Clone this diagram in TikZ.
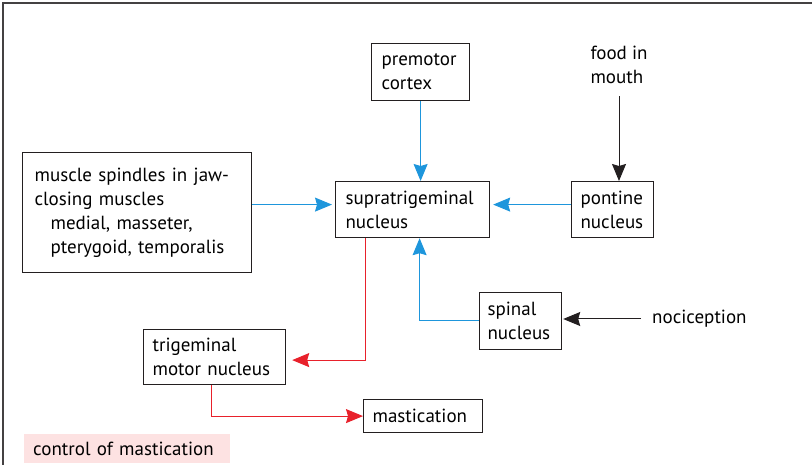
\documentclass[tikz,border=0pt]{standalone}
\usepackage{fontspec}
\setmainfont{PT Sans}
\usetikzlibrary{arrows.meta}
\definecolor{cblue}{HTML}{1E96DC}
\definecolor{cred}{HTML}{E8212B}
\definecolor{cdark}{HTML}{231F20}
\definecolor{cpink}{HTML}{FDE2E2}
\begin{document}
\begin{tikzpicture}[x=1pt,y=-1pt,
  font=\fontsize{19}{24}\selectfont,
  box/.style={draw=cdark, line width=1.2pt, align=left, inner ysep=0pt, anchor=north west},
  tip/.style={-{Stealth[length=17pt,width=14pt,inset=2pt]}, line width=1pt},
  barrow/.style={tip, draw=cblue},
  rarrow/.style={tip, draw=cred},
  karrow/.style={tip, draw=cdark}]
\useasboundingbox (0,0) rectangle (812,465);
\draw[cdark!85, line width=1.5pt] (3,465) -- (3,3) -- (812,3);

\node[box, text width=78pt, inner xsep=10pt, minimum height=57pt] (pm) at (371,43) {premotor\\cortex};
\node[box, text width=134pt, inner xsep=10pt, minimum height=56pt] (sup) at (335,181) {supratrigeminal\\nucleus};
\node[box, text width=64pt, inner xsep=9pt, minimum height=56pt] (pn) at (571,181) {pontine\\nucleus};
\node[box, text width=66pt, inner xsep=8pt, minimum height=57pt] (sp) at (479,292) {spinal\\nucleus};
\node[box, text width=205pt, inner xsep=12pt, minimum height=120pt] (ms) at (22,152)
  {muscle spindles in jaw-\\closing muscles\\\hspace*{16pt}medial, masseter,\\\hspace*{16pt}pterygoid, temporalis};
\node[box, text width=124pt, inner xsep=9pt, minimum height=55pt] (tg) at (143,329) {trigeminal\\motor nucleus};
\node[box, text width=101pt, inner xsep=9pt, minimum height=33pt] (ma) at (363,399) {mastication};
\node[anchor=north west, fill=cpink, text width=188pt, inner xsep=9pt, inner ysep=0pt, minimum height=29pt, align=left] (lab) at (24,434) {control of mastication};

\node[align=left, inner sep=0pt] (food) at (619,65) {food in\\mouth};
\node[anchor=west, inner sep=0pt] (noc) at (652,319) {nociception};

% connectors
\draw[barrow] (pm.south) -- (pm.south |- sup.north);
\draw[barrow] ([yshift=5pt]sup.west -| ms.east) -- ([xshift=-3pt,yshift=5pt]sup.west);
\draw[barrow] ([yshift=5pt]pn.west) -- ([xshift=3pt,yshift=5pt]sup.east);
\draw[barrow] ([yshift=1pt]sp.west) -| ([xshift=7pt]sup.south);
\draw[rarrow, shorten >=6pt] ([xshift=-47pt]sup.south) |- ([yshift=-3pt]tg.east);
\draw[rarrow] ([xshift=-3pt]tg.south) |- (ma.west);
\draw[karrow, shorten <=12pt] (food.south) -- (food.south |- pn.north);
\draw[karrow, shorten <=11pt, shorten >=1pt] (noc.west) -- (noc.west -| sp.east);
\end{tikzpicture}
\end{document}
